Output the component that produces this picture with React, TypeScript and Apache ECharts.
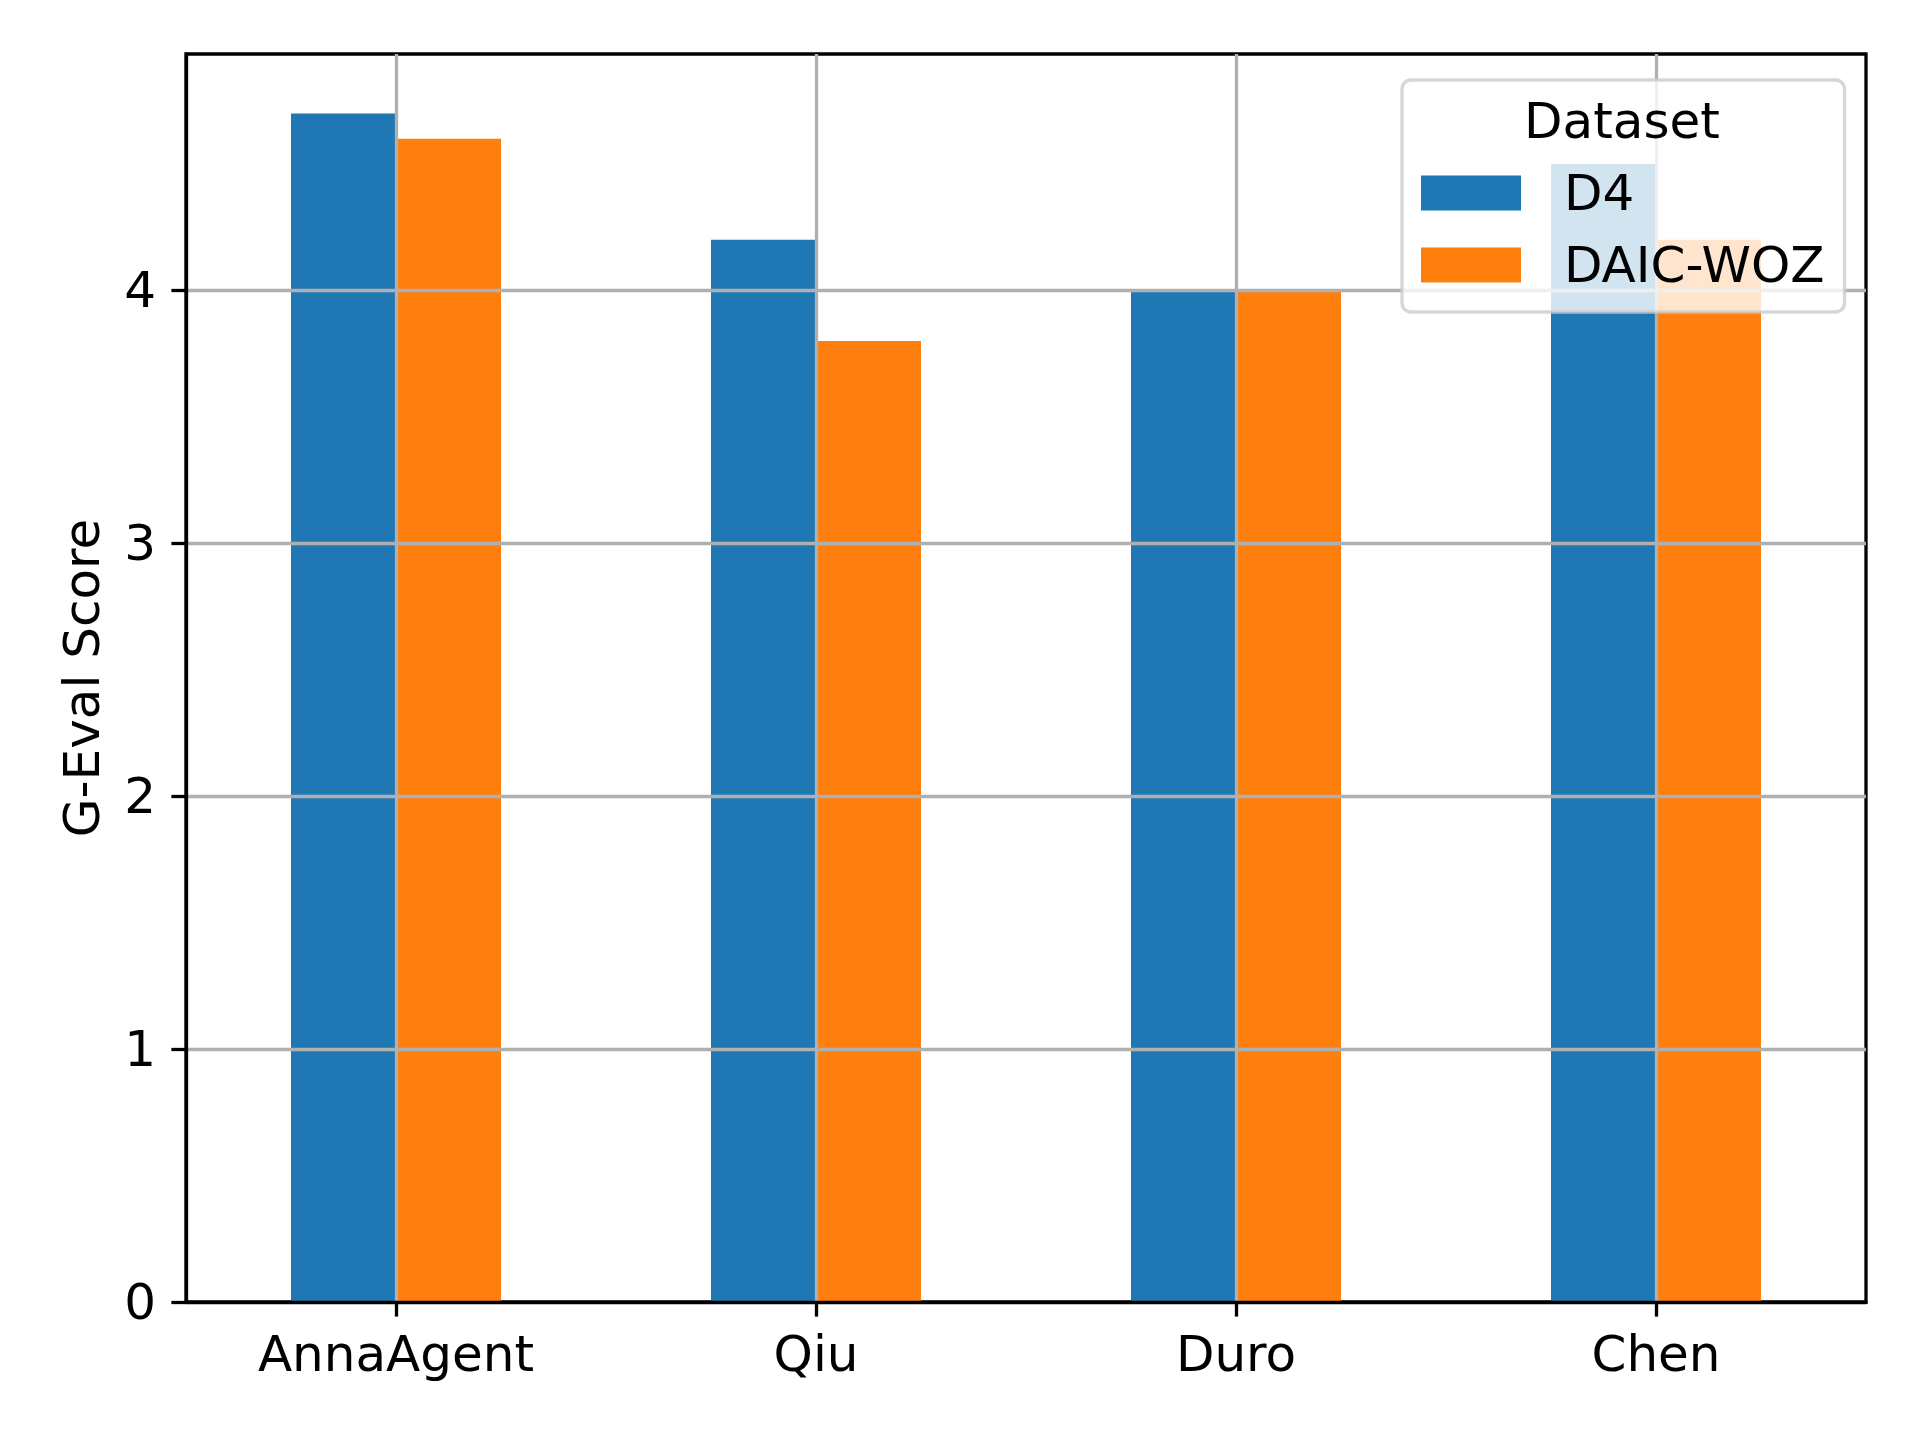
import React, { useEffect, useRef } from "react";
import * as echarts from "echarts";

const categories = ["AnnaAgent", "Qiu", "Duro", "Chen"];
const d4Values = [4.7, 4.2, 4.0, 4.5];
const daicValues = [4.6, 3.8, 4.0, 4.2];
const seriesNames = ["D4", "DAIC-WOZ"];
const legendTitle = "Dataset";
const yAxisName = "G-Eval Score";

const FONT = "DejaVu Sans";
const FS = 50;

export default function App() {
  const ref = useRef<HTMLDivElement>(null);
  useEffect(() => {
    if (!ref.current) return;
    const chart = echarts.init(ref.current, null, { renderer: "svg" });
    chart.setOption({
      animation: false,
      backgroundColor: "#ffffff",
      textStyle: { fontFamily: FONT },
      grid: {
        left: 186,
        right: 54,
        top: 54,
        bottom: 138,
        show: true,
        borderColor: "#000000",
        borderWidth: 3.3,
        backgroundColor: "transparent",
      },
      legend: {
        orient: "vertical",
        left: 1402,
        top: 80,
        z: 6,
        itemWidth: 100,
        itemHeight: 35,
        itemGap: 22,
        padding: [88, 20, 22, 19],
        backgroundColor: "rgba(255,255,255,0.8)",
        borderColor: "rgba(204,204,204,0.8)",
        borderWidth: 3.3,
        borderRadius: 9,
        icon: "rect",
        textStyle: {
          fontFamily: FONT,
          fontSize: FS,
          lineHeight: 35,
          color: "#000",
          padding: [0, 0, 0, 38],
        },
        data: seriesNames,
      },
      graphic: [
        {
          type: "text",
          x: 1622,
          y: 121,
          z: 20,
          style: {
            text: legendTitle,
            fontFamily: FONT,
            fontSize: FS,
            fill: "#000",
            align: "center",
            verticalAlign: "middle",
          },
        },
      ],
      xAxis: {
        type: "category",
        data: categories,
        z: 3,
        axisLine: { show: true, lineStyle: { color: "#000", width: 3.3 } },
        axisTick: { show: true, alignWithLabel: true, length: 14.6, lineStyle: { color: "#000", width: 3.3 } },
        axisLabel: { fontFamily: FONT, fontSize: FS, color: "#000", margin: 27 },
        splitLine: {
          show: true,
          alignWithLabel: true,
          lineStyle: { color: "#b0b0b0", width: 3.3 },
        },
      },
      yAxis: {
        type: "value",
        min: 0,
        max: 4.935,
        interval: 1,
        z: 3,
        name: yAxisName,
        nameLocation: "middle",
        nameGap: 79,
        nameTextStyle: { fontFamily: FONT, fontSize: FS, color: "#000" },
        axisLine: { show: true, lineStyle: { color: "#000", width: 3.3 } },
        axisTick: { show: true, length: 14.6, lineStyle: { color: "#000", width: 3.3 } },
        axisLabel: {
          fontFamily: FONT,
          fontSize: FS,
          color: "#000",
          margin: 30,
          showMaxLabel: false,
          formatter: (v: number) => (Number.isInteger(v) ? String(v) : ""),
        },
        splitLine: {
          show: true,
          showMinLine: false,
          showMaxLine: false,
          lineStyle: { color: "#b0b0b0", width: 3.3 },
        },
      },
      series: [
        {
          name: seriesNames[0],
          type: "bar",
          data: d4Values,
          itemStyle: { color: "#1f77b4" },
          barGap: "0%",
          barCategoryGap: "50%",
        },
        {
          name: seriesNames[1],
          type: "bar",
          data: daicValues,
          itemStyle: { color: "#ff7f0e" },
          barGap: "0%",
          barCategoryGap: "50%",
        },
      ],
    });
    return () => chart.dispose();
  }, []);
  return (
    <div
      ref={ref}
      style={{ position: "fixed", left: 0, top: 0, width: 1920, height: 1440 }}
    />
  );
}
